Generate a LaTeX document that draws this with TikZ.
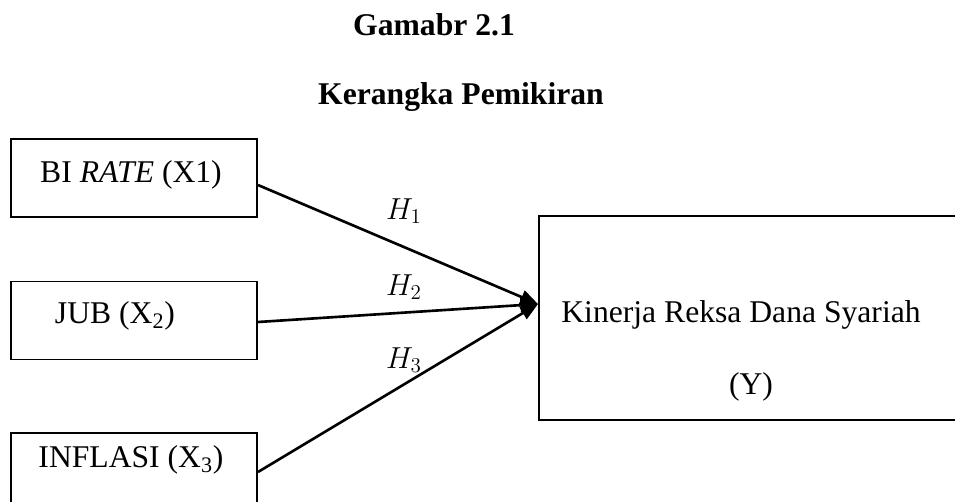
\documentclass[tikz,border=0pt]{standalone}
\usepackage{fontspec}
\setmainfont{Liberation Serif}
\usetikzlibrary{arrows.meta}

\begin{document}
\begin{tikzpicture}[x=0.2mm,y=-0.2mm,
  kotak/.style={draw,line width=1.1pt,minimum width=4.92cm,minimum height=1.56cm,inner sep=0pt},
  teks/.style={inner sep=0pt,font=\fontsize{18}{22}\selectfont},
  judul/.style={inner sep=0pt,font=\fontsize{18}{22}\selectfont\bfseries},
  panah/.style={line width=1.5pt,-{Triangle[length=10pt,width=8pt]}}]
\useasboundingbox (0,0) rectangle (955,501);
% judul gambar
\node[judul] (judul1) at (434,25) {Gamabr 2.1};
\node[judul] (judul2) at (461,97) {Kerangka Pemikiran};
% kotak variabel X di kiri
\node[kotak] (bi) at (134,178) {};
\node[kotak] (jub) at (134,320.5) {};
\node[kotak] (inf) at (134,472) {};
\node[teks] (bitxt) at (131,175) {BI \textit{RATE} (X1)};
\node[teks] (jubtxt) at (115,316) {JUB (X\textsubscript{2})};
\node[teks] (inftxt) at (131,460) {INFLASI (X\textsubscript{3})};
% kotak Y di kanan
\node[kotak,minimum width=8.46cm,minimum height=4.08cm] (kinerja) at (750.5,318) {};
\node[teks] (ytxt1) at (741,315) {Kinerja Reksa Dana Syariah};
\node[teks] (ytxt2) at (751,387) {(Y)};
% panah hipotesis
\coordinate (ujung) at (538,304);
\draw[panah] ([yshift=-1.4mm]bi.east) -- (ujung);
\draw[panah] ([yshift=-0.3mm]jub.east) -- (ujung);
\draw[panah] (inf.east) -- (ujung);
\node[teks] (h1) at (404,211) {$H_1$};
\node[teks] (h2) at (404,287) {$H_2$};
\node[teks] (h3) at (404,360) {$H_3$};
\end{tikzpicture}
\end{document}
